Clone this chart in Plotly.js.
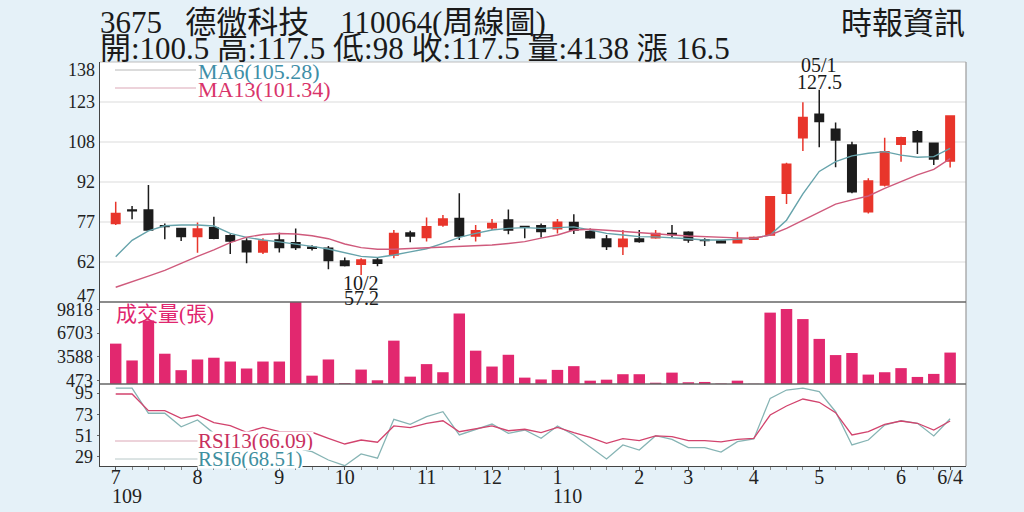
<!DOCTYPE html>
<html><head><meta charset="utf-8">
<script src="https://cdn.plot.ly/plotly-3.0.1.min.js"></script>
<style>html,body{margin:0;padding:0;background:#e5f1f8;}#c{width:1024px;height:512px;}</style>
</head><body><div id="c"></div>
<script>
// ---- data (weekly, 2020/07 - 2021/06/04) ----
const idx = Array.from({length:52},(_,i)=>i);
const open  = [76.8,81.9,81.9,75.9,74.9,71.8,75.2,72.1,70.1,66.0,70.5,69.5,67.8,67.4,62.5,61.3,62.9,64.8,73.2,71.5,76.2,78.7,72.0,75.2,78.1,75.6,75.9,74.8,77.1,73.6,70.9,68.0,70.9,71.4,73.0,73.4,70.6,70.1,69.5,70.8,72.4,88.2,109.3,118.2,112.5,106.5,81.2,91.4,106.8,111.6,107.2,100.5];
const high  = [85.0,83.4,91.4,76.8,75.2,77.1,79.3,72.7,71.2,71.2,73.3,74.9,68.5,68.2,63.9,63.6,63.7,74.3,74.0,79.0,80.0,88.2,76.2,78.5,82.1,75.9,76.8,78.5,80.3,74.9,72.4,74.3,74.3,74.3,76.2,73.8,71.2,70.5,73.6,71.8,87.2,99.8,122.7,127.5,115.1,107.8,93.9,109.3,109.7,112.2,107.5,117.5];
const low   = [76.2,78.4,74.0,70.8,70.1,65.7,70.8,65.2,61.7,65.2,65.8,66.7,66.5,59.4,60.5,57.2,60.6,63.6,69.7,69.9,75.5,70.5,69.9,74.3,72.7,71.2,71.5,73.0,72.8,71.0,66.7,64.8,69.5,71.0,71.5,69.5,68.2,69.2,69.2,70.6,72.0,84.2,104.3,105.7,98.1,88.2,80.6,90.8,100.2,103.1,98.9,98.0];
const close = [80.6,81.6,74.3,75.6,71.8,74.7,71.2,70.1,66.1,70.1,67.7,67.7,67.4,62.7,60.8,62.9,61.7,73.0,72.0,75.5,78.5,72.0,74.0,76.8,74.3,75.3,73.7,77.2,74.3,71.4,68.0,70.8,69.9,73.0,72.6,70.5,70.3,69.5,70.8,71.5,86.9,99.2,117.0,115.4,108.4,88.8,92.9,104.0,109.3,107.8,101.2,117.5];
const volume = [5317,3100,8370,3990,1820,3230,3460,2960,2040,2960,2960,10860,1100,3230,120,1900,490,5710,970,2620,1550,9300,4390,2300,3850,840,600,1860,2350,440,570,1290,1290,170,1500,230,270,60,440,30,9400,9870,8550,5940,3810,4080,1240,1550,2090,930,1330,4138];
const ma6  = [64.2,70.4,74.0,75.9,76.2,76.2,75.8,73.0,71.5,70.5,69.8,69.0,68.1,67.1,65.6,64.3,63.9,64.8,66.0,67.2,69.2,71.5,73.0,74.3,74.9,75.2,74.9,75.3,75.5,74.3,73.0,72.4,71.8,71.7,71.4,71.0,70.5,70.5,70.8,71.2,72.4,78.0,88.0,96.5,100.2,102.4,103.4,104.0,102.7,101.9,102.1,105.28];
const ma13 = [52.6,54.6,56.8,59.0,61.8,64.3,66.8,69.5,71.6,72.6,73.0,72.8,72.1,71.0,69.0,67.6,67.0,67.0,67.3,67.6,67.8,68.0,68.3,68.6,69.2,69.9,71.2,72.4,74.3,74.6,74.2,73.7,73.3,72.8,72.4,72.0,71.7,71.5,71.3,71.15,72.4,74.9,78.0,81.0,84.1,85.7,87.2,90.1,92.6,95.2,97.3,101.34];
const rsi13 = [94.0,94.0,76.8,76.8,68.9,72.3,64.4,61.3,54.5,59.6,55.1,55.1,54.5,48.3,42.4,46.5,44.2,61.0,59.2,63.7,66.4,55.1,58.2,61.0,56.1,57.6,54.1,59.6,54.1,49.3,43.1,47.9,45.8,50.7,50.0,45.8,45.8,44.5,47.2,48.3,72.3,81.6,88.8,85.4,74.7,51.7,55.1,62.7,66.1,63.8,56.8,66.09];
const rsi6  = [100,100,74.1,74.1,60.2,67.2,53.4,48.3,43.1,44.8,39.6,38.0,34.5,25.9,20.0,32.2,27.7,67.9,62.7,70.6,75.7,51.7,57.6,63.0,53.4,56.8,48.3,61.0,51.7,39.6,27.0,41.4,36.2,51.0,47.2,38.6,38.6,34.1,44.8,47.6,89.5,98.1,100,96.4,75.7,41.4,46.5,62.0,66.4,63.8,50.7,68.51];

const xTickIdx  = [0,5,10,14,19,23,27,32,35,39,43,48,51];
const xTickText = ['7','8','9','10','11','12','1','2','3','4','5','6','6/4'];
const yearIdx   = [0,27];
const yearText  = ['109','110'];
const priceTickVals = [49.3,62.17,77.33,92.5,107.67,122.83,135.0];
const priceTickText = ['47','62','77','92','108','123','138'];
const priceGrid = [62.17,77.33,92.5,107.67,122.83];
const volTickVals = [473,3588,6703,9818];
const rsiTickVals = [29,51,73,95];

const NB = '\u00a0';
const title1 = '3675'+NB+NB+NB+'德微科技'+NB+NB+NB+NB+'110064(周線圖)';
const title2 = '開:100.5 高:117.5 低:98 收:117.5 量:4138 漲 16.5';
const source = '時報資訊';
const hiIdx = 43, hiDate = '05/1';
const loIdx = 15, loDate = '10/2';

// ---- layout helpers ----
const W=1024,H=512;
const px = x => x/W, py = y => 1 - y/H;
const FONT = 'Liberation Serif, Noto Sans CJK TC, serif';
const L=100,R=966,T=62,P1=302,P2=384,B=466;

const traces = [
  {type:'candlestick', x:idx, open:open, high:high, low:low, close:close, xaxis:'x', yaxis:'y',
   increasing:{line:{color:'#e8352b',width:1.5}, fillcolor:'#e8352b'},
   decreasing:{line:{color:'#1c1c1c',width:1.5}, fillcolor:'#1c1c1c'},
   whiskerwidth:0, hoverinfo:'skip'},
  {type:'scatter', mode:'lines', x:idx, y:ma6, xaxis:'x', yaxis:'y', line:{color:'#66a3ab',width:1.4}, hoverinfo:'skip'},
  {type:'scatter', mode:'lines', x:idx, y:ma13, xaxis:'x', yaxis:'y', line:{color:'#cf5a7c',width:1.4}, hoverinfo:'skip'},
  {type:'bar', x:idx, y:volume, xaxis:'x', yaxis:'y2', width:0.7, marker:{color:'#e2286f'}, hoverinfo:'skip'},
  {type:'scatter', mode:'lines', x:idx, y:rsi6, xaxis:'x', yaxis:'y3', line:{color:'#86b4b4',width:1.3}, hoverinfo:'skip'},
  {type:'scatter', mode:'lines', x:idx, y:rsi13, xaxis:'x', yaxis:'y3', line:{color:'#d2436d',width:1.3}, hoverinfo:'skip'}
];

const shapes = [];
priceGrid.forEach(v=>shapes.push({type:'line', xref:'paper', yref:'y', x0:px(L), x1:px(R), y0:v, y1:v, line:{color:'#dcdcdc',width:1.2}, layer:'below'}));
shapes.push({type:'line', xref:'paper', yref:'paper', x0:px(L), x1:px(R), y0:py(T), y1:py(T), line:{color:'#bdbdbd',width:1.2}});
shapes.push({type:'line', xref:'paper', yref:'paper', x0:px(R), x1:px(R), y0:py(T), y1:py(B), line:{color:'#9a9a9a',width:1.2}});
shapes.push({type:'line', xref:'paper', yref:'paper', x0:px(L), x1:px(R), y0:py(P1), y1:py(P1), line:{color:'#666',width:1.3}});
shapes.push({type:'line', xref:'paper', yref:'paper', x0:px(L), x1:px(R), y0:py(P2), y1:py(P2), line:{color:'#666',width:1.3}});
shapes.push({type:'line', xref:'paper', yref:'paper', x0:px(115), x1:px(196), y0:py(70), y1:py(70), line:{color:'#b8b8b8',width:1}});
shapes.push({type:'line', xref:'paper', yref:'paper', x0:px(115), x1:px(196), y0:py(88), y1:py(88), line:{color:'#dba7b6',width:1}});
shapes.push({type:'line', xref:'paper', yref:'paper', x0:px(115), x1:px(198), y0:py(441), y1:py(441), line:{color:'#dba7b6',width:1}});
shapes.push({type:'line', xref:'paper', yref:'paper', x0:px(115), x1:px(198), y0:py(459), y1:py(459), line:{color:'#b8c8c8',width:1}});

const ann = (text,x,y,opts={}) => Object.assign({text, xref:'paper', yref:'paper', x:px(x), y:py(y), showarrow:false, xanchor:'left', yanchor:'middle', font:{family:FONT,size:22,color:'#222'}}, opts);
const dataAnn = (text,i,v,shift) => ({text, xref:'x', yref:'y', x:i, y:v, showarrow:false, xanchor:'center', yanchor:'middle', yshift:shift, font:{family:FONT,size:20,color:'#1a1a1a'}});

const annotations = [
  ann(title1,98,22,{font:{family:FONT,size:31,color:'#1a1a1a'}}),
  ann(title2,98,48,{font:{family:FONT,size:31,color:'#1a1a1a'}}),
  ann(source,967,23,{xanchor:'right',font:{family:FONT,size:31,color:'#1a1a1a'}}),
  ann('MA6(105.28)',196,71,{font:{family:FONT,size:22,color:'#3f8fa8'}}),
  ann('MA13(101.34)',196,89,{font:{family:FONT,size:22,color:'#d9336a'}}),
  ann('成交量(張)',114,314,{font:{family:FONT,size:21,color:'#e0266e'}}),
  ann('RSI6(68.51)',197,459,{font:{family:FONT,size:21,color:'#3f8fa0'}, bgcolor:'#ffffff', borderpad:0, height:18}),
  ann('RSI13(66.09)',197,441,{font:{family:FONT,size:21,color:'#c8305e'}, bgcolor:'#ffffff', borderpad:0, height:18}),
  dataAnn(hiDate,hiIdx,high[hiIdx],25),
  dataAnn(String(high[hiIdx]),hiIdx,high[hiIdx],8),
  dataAnn(loDate,loIdx,low[loIdx],-8),
  dataAnn(String(low[loIdx]),loIdx,low[loIdx],-23)
];
yearIdx.forEach((i,k)=>annotations.push({text:yearText[k], xref:'x', yref:'paper', x:i, y:py(496), showarrow:false, xanchor:'left', xshift:-6, yanchor:'middle', font:{family:FONT,size:20,color:'#222'}}));

const axFont = {family:FONT,size:18,color:'#222'};
const layout = {
  width:W, height:H, margin:{l:0,r:0,t:0,b:0}, boxgap:0.26,
  paper_bgcolor:'#e5f1f8', plot_bgcolor:'#ffffff', showlegend:false, dragmode:false,
  xaxis:{domain:[px(L),px(R)], range:[-0.96,51.97], anchor:'y3', tickmode:'array', tickvals:xTickIdx, ticktext:xTickText,
         ticks:'outside', ticklen:3, tickcolor:'#555', showline:true, linecolor:'#444', linewidth:1.3, showgrid:false, zeroline:false,
         rangeslider:{visible:false}, tickfont:{family:FONT,size:20,color:'#222'}, ticklabelstandoff:-10, fixedrange:true,
         minor:{tickmode:'linear', tick0:0, dtick:1, ticks:'outside', ticklen:3, tickcolor:'#888', showgrid:false}},
  yaxis:{domain:[py(P1),py(T)], range:[47,138], tickmode:'array', tickvals:priceTickVals, ticktext:priceTickText,
         showgrid:false, zeroline:false, showline:true, linecolor:'#444', linewidth:1.3, ticks:'', tickfont:axFont, fixedrange:true},
  yaxis2:{domain:[py(P2),py(P1)], range:[0,10800], tickmode:'array', tickvals:volTickVals, ticktext:volTickVals.map(String),
         showgrid:false, zeroline:false, showline:true, linecolor:'#444', linewidth:1.3, ticks:'outside', ticklen:2, tickcolor:'#666', tickfont:axFont, fixedrange:true},
  yaxis3:{domain:[py(B),py(P2)], range:[19.7,104.3], tickmode:'array', tickvals:rsiTickVals, ticktext:rsiTickVals.map(String),
         showgrid:false, zeroline:false, showline:true, linecolor:'#444', linewidth:1.3, ticks:'outside', ticklen:2, tickcolor:'#666', tickfont:axFont, fixedrange:true},
  shapes, annotations
};

Plotly.newPlot('c', traces, layout, {staticPlot:true, displayModeBar:false});
</script></body></html>
